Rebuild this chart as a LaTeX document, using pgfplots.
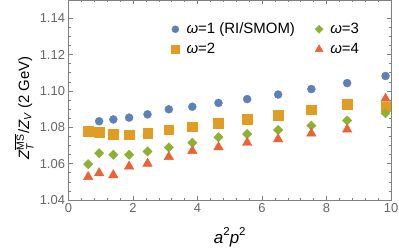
\documentclass[border=0pt]{standalone}
\usepackage{amsmath}
\usepackage{fontspec}
\setmainfont{Liberation Sans}
\usepackage{pgfplots}
\pgfplotsset{compat=1.18}
\definecolor{c1}{RGB}{94,129,181}
\definecolor{c2}{RGB}{225,156,36}
\definecolor{c3}{RGB}{143,176,50}
\definecolor{c4}{RGB}{235,98,53}
\definecolor{framegray}{gray}{0.5}
\definecolor{tickgray}{gray}{0.4}
\newcommand{\sq}[1]{\raisebox{0.42em}{\fontsize{11.5}{12}\selectfont #1}}
\begin{document}
\begin{tikzpicture}
\begin{axis}[
  name=ax,
  scale only axis, width=322.5bp, height=200bp,
  xmin=0, xmax=10, ymin=1.04, ymax=1.15,
  xtick={0,2,4,6,8,10}, ytick={1.04,1.06,1.08,1.10,1.12,1.14},
  minor x tick num=4, minor y tick num=3,
  tick align=inside, major tick length=4bp, minor tick length=2.5bp,
  axis line style={framegray}, tick style={framegray, line width=0.5pt},
  every tick label/.append style={tickgray, font=\fontsize{13}{14}\selectfont},
  /pgf/number format/assume math mode=true,
  yticklabel style={/pgf/number format/fixed, /pgf/number format/precision=2, /pgf/number format/fixed zerofill},
  every axis x label/.style={at={(axis description cs:0.5,0)}, anchor=base, yshift=-43bp, font=\fontsize{17}{18}\selectfont},
  every axis y label/.style={at={(axis description cs:-0.138,0.46)}, rotate=90, anchor=center, font=\fontsize{15}{17}\selectfont},
  xlabel={\textit{a}\sq{2}\textit{p}\sq{2}},
  ylabel={\textit{Z}$_{\textit{T}}^{\overline{\text{MS}}}$/\textit{Z}$_{\textit{V}}$ (2 GeV)},
  legend columns=2, transpose legend,
  legend cell align=left,
  legend image code/.code={\path (-5bp,0) (9bp,0); \draw[#1] plot coordinates {(0bp,0bp)};},
  legend style={at={(axis cs:3.147,1.1385)}, anchor=north west, draw=none, fill=none, inner sep=0pt,
    font=\fontsize{15}{17}\selectfont, row sep=4bp,
    /tikz/every even column/.append style={column sep=17bp}},
]
\addplot[only marks, mark=*, c1, mark size=4bp, forget plot] coordinates {
(0.95,1.0833) (1.39,1.0843) (1.88,1.0853) (2.45,1.0871) (3.11,1.0899) (3.84,1.0913)
(4.65,1.0934) (5.54,1.0955) (6.50,1.0980) (7.53,1.1010) (8.64,1.1043) (9.83,1.1082)};
\addplot[only marks, mark=square*, c2, mark size=4.8bp, forget plot] coordinates {
(0.61,1.0778) (0.95,1.0772) (1.39,1.0761) (1.88,1.0760) (2.45,1.0768) (3.11,1.0786) (3.84,1.0804)
(4.65,1.0822) (5.54,1.0843) (6.50,1.0866) (7.53,1.0897) (8.64,1.0927) (9.83,1.0914)};
\addplot[only marks, mark=square*, mark options={rotate=45}, c3, mark size=3.3bp, forget plot] coordinates {
(0.61,1.0597) (0.95,1.0658) (1.39,1.0649) (1.88,1.0649) (2.45,1.0667) (3.11,1.0689) (3.84,1.0715)
(4.65,1.0745) (5.54,1.0763) (6.50,1.0785) (7.53,1.0809) (8.64,1.0837) (9.83,1.0877)};
\addplot[only marks, mark=triangle*, c4, mark size=5.5bp, forget plot] coordinates {
(0.61,1.0527) (0.95,1.0548) (1.39,1.0537) (1.88,1.0585) (2.45,1.0600) (3.11,1.0637) (3.84,1.0670)
(4.65,1.0691) (5.54,1.0715) (6.50,1.0735) (7.53,1.0766) (8.64,1.0788) (9.83,1.0957)};
\addlegendimage{only marks, mark=*, c1, mark size=3.5bp}
\addlegendentry{\textit{ω}=1 (RI/SMOM)}
\addlegendimage{only marks, mark=square*, c2, mark size=3.9bp}
\addlegendentry{\textit{ω}=2}
\addlegendimage{only marks, mark=square*, mark options={rotate=45}, c3, mark size=2.8bp}
\addlegendentry{\textit{ω}=3}
\addlegendimage{only marks, mark=triangle*, c4, mark size=4.6bp}
\addlegendentry{\textit{ω}=4}
\end{axis}
\pgfresetboundingbox
\useasboundingbox ([shift={(-68.5bp,-49bp)}]ax.south west) rectangle ([shift={(8bp,0bp)}]ax.north east);
\end{tikzpicture}
\end{document}
